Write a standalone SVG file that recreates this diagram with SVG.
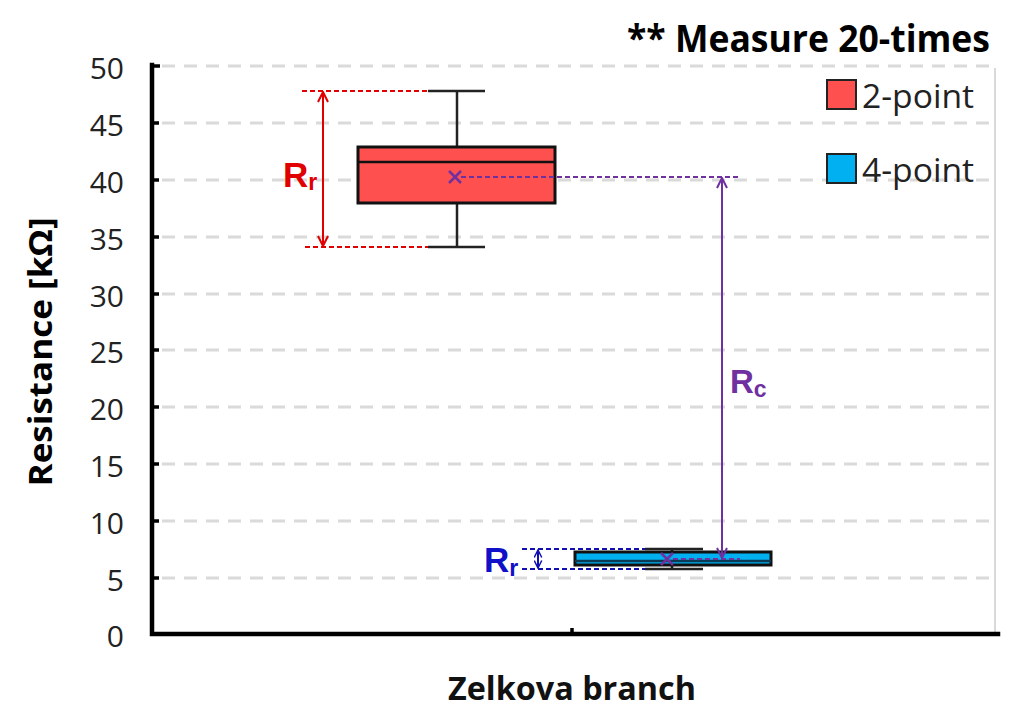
<svg xmlns="http://www.w3.org/2000/svg" width="1027" height="720" viewBox="0 0 1027 720">
<style>
.grid{stroke:#dadada;stroke-width:3;stroke-dasharray:13 9;fill:none}
.axis{stroke:#000;stroke-width:4.5;fill:none;stroke-linecap:square}
.tick{font-family:"Open Sans","Noto Sans",sans-serif;font-size:30px;fill:#222;text-anchor:end}
.box{stroke:#111;stroke-width:3}
.wh{stroke:#222;stroke-width:2.5;fill:none}
.dashR{stroke:#e00000;stroke-width:2;stroke-dasharray:5 3;fill:none}
.dashB{stroke:#1010b0;stroke-width:2;stroke-dasharray:5 3;fill:none}
.dashP{stroke:#7030a0;stroke-width:2;stroke-dasharray:5 3;fill:none}
.lab{font-family:"Liberation Sans",Arial,sans-serif;font-weight:bold}
.leg{font-family:"Open Sans","Noto Sans",sans-serif;font-size:32px;fill:#222}
</style>
<defs>
<marker id="hR" viewBox="0 0 12 12" refX="11" refY="6" markerWidth="12" markerHeight="12" markerUnits="userSpaceOnUse" orient="auto-start-reverse"><path d="M1,1 L11,6 L1,11" fill="none" stroke="#e00000" stroke-width="2"/></marker>
<marker id="hB" viewBox="0 0 12 12" refX="11" refY="6" markerWidth="9" markerHeight="9" markerUnits="userSpaceOnUse" orient="auto-start-reverse"><path d="M1,1 L11,6 L1,11" fill="none" stroke="#1010b0" stroke-width="2"/></marker>
<marker id="hP" viewBox="0 0 12 12" refX="11" refY="6" markerWidth="12" markerHeight="12" markerUnits="userSpaceOnUse" orient="auto-start-reverse"><path d="M1,1 L11,6 L1,11" fill="none" stroke="#7030a0" stroke-width="2"/></marker>
</defs>
<rect width="1027" height="720" fill="#fff"/>
<g id="grid">
<line class="grid" x1="162" y1="66" x2="995" y2="66"/>
<line class="grid" x1="162" y1="123" x2="995" y2="123"/>
<line class="grid" x1="162" y1="180" x2="995" y2="180"/>
<line class="grid" x1="162" y1="237" x2="995" y2="237"/>
<line class="grid" x1="162" y1="294" x2="995" y2="294"/>
<line class="grid" x1="162" y1="350" x2="995" y2="350"/>
<line class="grid" x1="162" y1="407" x2="995" y2="407"/>
<line class="grid" x1="162" y1="464" x2="995" y2="464"/>
<line class="grid" x1="162" y1="521" x2="995" y2="521"/>
<line class="grid" x1="162" y1="578" x2="995" y2="578"/>
<line x1="995" y1="68" x2="995" y2="632" stroke="#d9d9d9" stroke-width="2"/>
</g>
<g id="axes">
<path class="axis" d="M152,65 L152,634 L998,634"/>
<path d="M152,66H160M152,123H159M152,180H159M152,237H159M152,294H159M152,350H159M152,407H159M152,464H159M152,521H159M152,578H159M572,634V628" stroke="#000" stroke-width="3.5"/>
<g>
<text class="tick" x="124" y="79">50</text>
<text class="tick" x="124" y="136">45</text>
<text class="tick" x="124" y="193">40</text>
<text class="tick" x="124" y="250">35</text>
<text class="tick" x="124" y="307">30</text>
<text class="tick" x="124" y="363">25</text>
<text class="tick" x="124" y="420">20</text>
<text class="tick" x="124" y="477">15</text>
<text class="tick" x="124" y="534">10</text>
<text class="tick" x="124" y="591">5</text>
<text class="tick" x="124" y="647">0</text>
</g>
<text x="52" y="352" transform="rotate(-90 52 352)" text-anchor="middle" font-family="'Open Sans','Noto Sans',sans-serif" font-weight="bold" font-size="33" fill="#000" textLength="269" lengthAdjust="spacingAndGlyphs">Resistance [kΩ]</text>
<text x="572" y="700" text-anchor="middle" font-family="'Open Sans','Noto Sans',sans-serif" font-weight="bold" font-size="33" fill="#111" textLength="248" lengthAdjust="spacingAndGlyphs">Zelkova branch</text>
</g>
<g id="title">
<text x="627" y="52" font-family="'Open Sans','Noto Sans',sans-serif" font-weight="bold" font-size="37" fill="#000" textLength="363" lengthAdjust="spacingAndGlyphs">** Measure 20-times</text>
</g>
<g id="legend">
<rect x="827" y="80" width="29" height="29" fill="#ff5050" stroke="#222" stroke-width="2"/>
<text class="leg" x="862" y="108" textLength="112" lengthAdjust="spacingAndGlyphs">2-point</text>
<rect x="827" y="154" width="29" height="29" fill="#00b0f0" stroke="#222" stroke-width="2"/>
<text class="leg" x="862" y="182" textLength="112" lengthAdjust="spacingAndGlyphs">4-point</text>
</g>
<g id="box-2point">
<line class="wh" x1="457" y1="91" x2="457" y2="147"/>
<line class="wh" x1="457" y1="203" x2="457" y2="247"/>
<line class="wh" x1="428" y1="91" x2="485" y2="91"/>
<line class="wh" x1="428" y1="247" x2="485" y2="247"/>
<rect class="box" x="358" y="147" width="197" height="56" fill="#ff5050"/>
<line x1="358" y1="162" x2="555" y2="162" stroke="#111" stroke-width="2.5"/>
<path d="M449,171 L461,183 M461,171 L449,183" stroke="#7030a0" stroke-width="2.5"/>
</g>
<g id="box-4point">
<line class="wh" x1="672" y1="549" x2="672" y2="569"/>
<line class="wh" x1="645" y1="549" x2="703" y2="549" stroke="#444"/>
<line class="wh" x1="645" y1="569" x2="703" y2="569" stroke="#444"/>
<rect class="box" x="575" y="552" width="196" height="13" fill="#00b0f0" stroke-width="2.5"/>
<line x1="575" y1="561" x2="771" y2="561" stroke="#0b3a55" stroke-width="2.5"/>
<path d="M661,553 L673,565 M673,553 L661,565" stroke="#7030a0" stroke-width="2.5"/>
</g>
<g id="connectors">
<line class="dashR" x1="302" y1="91" x2="428" y2="91"/>
<line class="dashR" x1="305" y1="247" x2="428" y2="247"/>
<line x1="323" y1="92" x2="323" y2="246" stroke="#e00000" stroke-width="2" marker-start="url(#hR)" marker-end="url(#hR)"/>
<line class="dashB" x1="522" y1="549" x2="645" y2="549"/>
<line class="dashB" x1="522" y1="569" x2="645" y2="569"/>
<line x1="538" y1="550" x2="538" y2="568" stroke="#1010b0" stroke-width="2" marker-start="url(#hB)" marker-end="url(#hB)"/>
<line class="dashP" x1="461" y1="177" x2="740" y2="177"/>
<line class="dashP" x1="673" y1="559" x2="740" y2="559"/>
<line x1="722" y1="178" x2="722" y2="558" stroke="#7030a0" stroke-width="2" marker-start="url(#hP)" marker-end="url(#hP)"/>
</g>
<g id="labels">
<text class="lab" x="283" y="187" font-size="35" fill="#e00000">R<tspan font-size="23" dy="3">r</tspan></text>
<text class="lab" x="484" y="572" font-size="35" fill="#1010c8">R<tspan font-size="23" dy="4">r</tspan></text>
<text class="lab" x="730" y="393" font-size="33" fill="#7030a0">R<tspan font-size="23" dy="4">c</tspan></text>
</g>
</svg>
